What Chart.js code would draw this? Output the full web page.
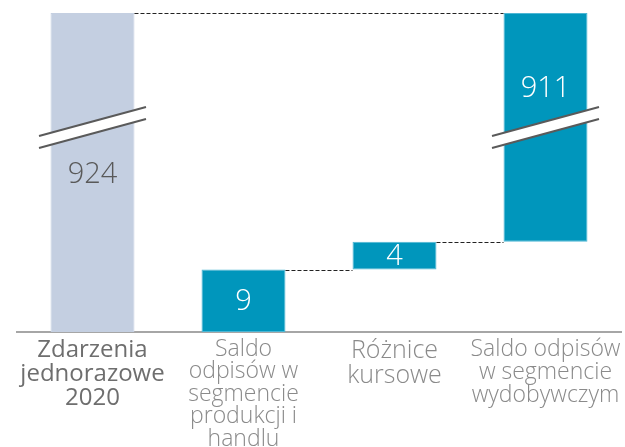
<!DOCTYPE html>
<html lang="pl">
<head>
<meta charset="utf-8">
<script src="https://cdn.jsdelivr.net/npm/chart.js@4/dist/chart.umd.min.js"></script>
<style>
  html, body { margin: 0; padding: 0; background: #ffffff; }
  #wrap { width: 625px; height: 447px; }
</style>
</head>
<body>
<div id="wrap"><canvas id="chart" width="625" height="447"></canvas></div>
<script>
// Category labels, one line per array entry
const categories = [
  ['Zdarzenia', 'jednorazowe', '2020'],
  ['Saldo', 'odpisów w', 'segmencie', 'produkcji i', 'handlu'],
  ['Różnice', 'kursowe'],
  ['Saldo odpisów', 'w segmencie', 'wydobywczym']
];
// Starting total and the steps that add up to it
const startTotal = 924;
const stepValues = [9, 4, 911];

// Floating bar ranges: the total bar from zero, then each step stacked on the last
const ranges = [[0, startTotal]];
let running = 0;
stepValues.forEach(v => { ranges.push([running, running + v]); running += v; });
const labelValues = [startTotal].concat(stepValues);

// Linear scale with a compressed upper segment above a break value
class BrokenLinearScale extends Chart.LinearScale {
  _decimalFor(value) {
    const at = this.options.breakValue, share = this.options.breakShare;
    if (value <= at) return (value - this.min) / (at - this.min) * share;
    return share + (value - at) / (this.max - at) * (1 - share);
  }
  getPixelForValue(value) {
    return this.getPixelForDecimal(this._decimalFor(value));
  }
  getValueForPixel(pixel) {
    const d = this.getDecimalForPixel(pixel);
    const at = this.options.breakValue, share = this.options.breakShare;
    if (d <= share) return this.min + d / share * (at - this.min);
    return at + (d - share) / (1 - share) * (this.max - at);
  }
}
BrokenLinearScale.id = 'brokenLinear';
BrokenLinearScale.defaults = Chart.LinearScale.defaults;
Chart.register(BrokenLinearScale);

const FONT = '"Open Sans", "DejaVu Sans", sans-serif';

// Dashed connectors, value labels and break marks
const waterfallDecor = {
  id: 'waterfallDecor',
  afterDatasetsDraw(chart) {
    const { ctx, chartArea } = chart;
    const meta = chart.getDatasetMeta(0);
    const y = chart.scales.y;
    const bars = meta.data;

    // connectors between consecutive levels
    ctx.save();
    ctx.strokeStyle = '#222222';
    ctx.lineWidth = 1;
    ctx.setLineDash([4, 2]);
    ranges.forEach((r, i) => {
      const level = r[1];
      for (let j = i + 1; j < ranges.length; j++) {
        if (ranges[j][0] === level || ranges[j][1] === level) {
          const py = Math.round(y.getPixelForValue(level)) + 0.5;
          const b1 = bars[i], b2 = bars[j];
          ctx.beginPath();
          ctx.moveTo(b1.x + b1.width / 2, py);
          ctx.lineTo(b2.x - b2.width / 2, py);
          ctx.stroke();
          break;
        }
      }
    });
    ctx.restore();

    // break marks across bars that reach the upper segment
    const breakY = chartArea.top + 0.359 * (chartArea.bottom - chartArea.top);
    ranges.forEach((r, i) => {
      if (r[1] <= y.options.breakValue * 2) return;
      const cx = bars[i].x;
      const half = 53.5, rise = 14.5, gap = 6;
      ctx.save();
      ctx.fillStyle = '#ffffff';
      ctx.beginPath();
      ctx.moveTo(cx - half, breakY + rise - gap);
      ctx.lineTo(cx + half, breakY - rise - gap);
      ctx.lineTo(cx + half, breakY - rise + gap);
      ctx.lineTo(cx - half, breakY + rise + gap);
      ctx.closePath();
      ctx.fill();
      ctx.strokeStyle = '#5a5a5a';
      ctx.lineWidth = 2;
      [-gap, gap].forEach(off => {
        ctx.beginPath();
        ctx.moveTo(cx - half, breakY + rise + off);
        ctx.lineTo(cx + half, breakY - rise + off);
        ctx.stroke();
      });
      ctx.restore();
    });

    // value labels
    ctx.save();
    ctx.font = '300 29px ' + FONT;
    ctx.textAlign = 'center';
    ctx.textBaseline = 'middle';
    ranges.forEach((r, i) => {
      const b = bars[i];
      let ly;
      if (i === 0) ly = breakY + 46;
      else if (r[1] > y.options.breakValue * 2) ly = breakY - 40;
      else ly = (y.getPixelForValue(r[0]) + y.getPixelForValue(r[1])) / 2;
      ctx.fillStyle = i === 0 ? '#595959' : '#ffffff';
      ctx.fillText(String(labelValues[i]), b.x, ly + 1);
    });
    ctx.restore();
  }
};

const tickFonts = [
  { family: FONT, size: 24, weight: 400, lineHeight: '24px' },
  { family: FONT, size: 23, weight: 300, lineHeight: '22.5px' },
  { family: FONT, size: 25, weight: 300, lineHeight: '25px' },
  { family: FONT, size: 23, weight: 300, lineHeight: '23px' }
];
const tickColors = ['#6e6e6e', '#8a8a8a', '#8a8a8a', '#8a8a8a'];

new Chart(document.getElementById('chart'), {
  type: 'bar',
  data: {
    labels: categories,
    datasets: [{
      data: ranges,
      backgroundColor: ['#c4cfe1', '#0096bc', '#0096bc', '#0096bc'],
      borderColor: ['#c4cfe1', '#4db6d4', '#4db6d4', '#4db6d4'],
      borderWidth: 1,
      borderSkipped: false,
      categoryPercentage: 1,
      barPercentage: 0.556
    }]
  },
  options: {
    responsive: false,
    animation: false,
    layout: { padding: { left: 17, right: 4, top: 13, bottom: 0 } },
    plugins: { legend: { display: false }, tooltip: { enabled: false } },
    scales: {
      x: {
        grid: { display: true, drawOnChartArea: false, drawTicks: false, color: 'rgba(0,0,0,0)' },
        border: { display: true, color: '#a6a6a6', width: 2 },
        ticks: {
          autoSkip: false,
          maxRotation: 0,
          minRotation: 0,
          padding: 6,
          font: ctx => tickFonts[ctx.index],
          color: ctx => tickColors[ctx.index]
        },
        afterFit(scale) {
          scale.height = 115;
          scale.paddingLeft = 0;
          scale.paddingRight = 0;
        }
      },
      y: {
        type: 'brokenLinear',
        display: false,
        min: 0,
        max: startTotal,
        breakValue: 13,
        breakShare: 0.283
      }
    }
  },
  plugins: [waterfallDecor]
});
</script>
</body>
</html>
